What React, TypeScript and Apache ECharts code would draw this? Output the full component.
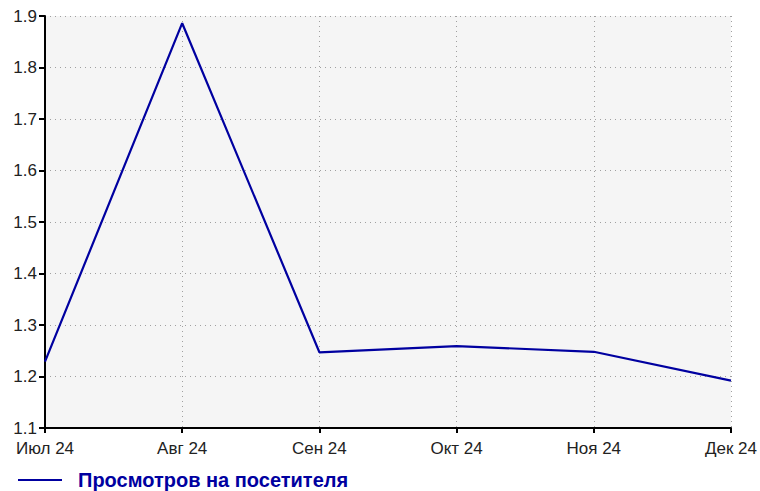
import React, { useEffect, useRef } from "react";
import * as echarts from "echarts";

const categories = ["Июл 24", "Авг 24", "Сен 24", "Окт 24", "Ноя 24", "Дек 24"];
const seriesName = "Просмотров на посетителя";
const values = [1.229, 1.886, 1.247, 1.259, 1.248, 1.192];
const yTicks = { min: 1.1, max: 1.9, interval: 0.1 };

export default function App() {
  const ref = useRef<HTMLDivElement>(null);
  useEffect(() => {
    if (!ref.current) return;
    const chart = echarts.init(ref.current, null, { renderer: "svg" });
    const font = "'Liberation Sans', Arial, sans-serif";
    chart.setOption({
      animation: false,
      backgroundColor: "#ffffff",
      grid: {
        left: 45,
        right: 28,
        top: 16,
        bottom: 63,
        show: true,
        backgroundColor: "#f5f5f5",
        borderWidth: 0,
      },
      legend: {
        show: true,
        left: 18,
        top: 470,
        padding: 0,
        itemWidth: 44,
        itemHeight: 2,
        itemGap: 10,
        icon: "rect",
        data: [{ name: seriesName, icon: "rect" }],
        textStyle: {
          color: "#0000a0",
          fontWeight: "bold",
          fontSize: 20,
          fontFamily: font,
          padding: [0, 0, 0, 11],
        },
      },
      xAxis: {
        type: "category",
        data: categories,
        boundaryGap: false,
        axisLine: { show: true, lineStyle: { color: "#000", width: 2 } },
        axisTick: { show: true, length: 5, lineStyle: { color: "#000", width: 2 }, alignWithLabel: true },
        axisLabel: {
          color: "#222",
          fontSize: 17,
          fontFamily: font,
          margin: 12,
          interval: 0,
        },
        splitLine: { show: true, lineStyle: { color: "#a0a0a0", type: [1, 4], width: 1 } },
      },
      yAxis: {
        type: "value",
        min: yTicks.min,
        max: yTicks.max,
        interval: yTicks.interval,
        axisLine: { show: true, lineStyle: { color: "#000", width: 2 } },
        axisTick: { show: true, length: 6, lineStyle: { color: "#000", width: 2 } },
        axisLabel: {
          color: "#222",
          fontSize: 17,
          fontFamily: font,
          margin: 8,
          formatter: (v: number) => v.toFixed(1),
        },
        splitLine: { show: true, lineStyle: { color: "#a0a0a0", type: [1, 4], width: 1 } },
      },
      series: [
        {
          name: seriesName,
          type: "line",
          data: values,
          showSymbol: false,
          symbol: "none",
          lineStyle: { color: "#0000a0", width: 2.2 },
          itemStyle: { color: "#0000a0" },
        },
      ],
    });
    return () => chart.dispose();
  }, []);
  return <div ref={ref} style={{ width: 760, height: 491, position: "absolute", left: 0, top: 0 }} />;
}
